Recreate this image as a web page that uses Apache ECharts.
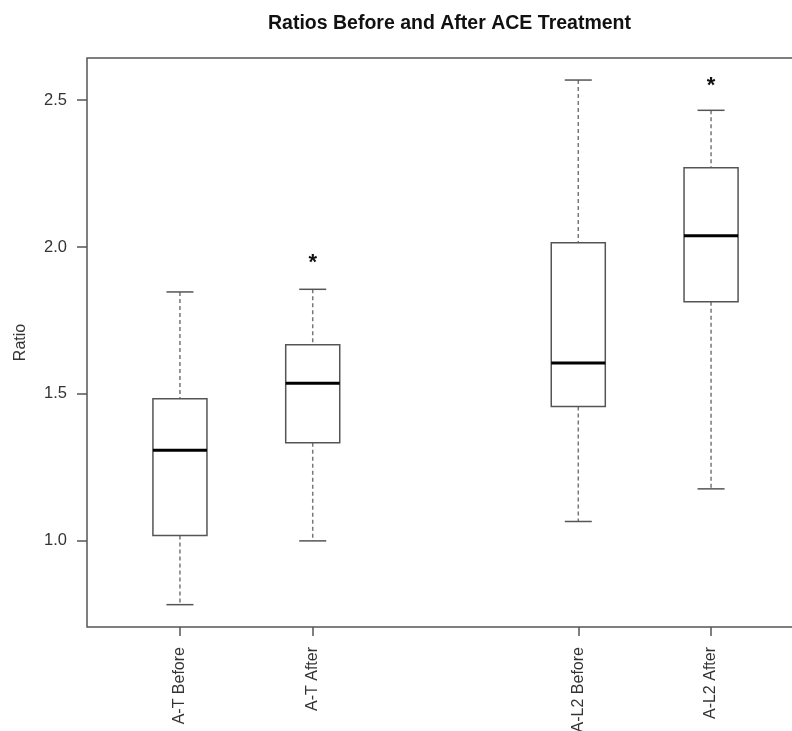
<!DOCTYPE html>
<html><head><meta charset="utf-8">
<script src="https://cdn.jsdelivr.net/npm/echarts@6/dist/echarts.min.js"></script>
<style>html,body{margin:0;padding:0;background:#fff}#c{width:792px;height:731px}</style>
</head><body><div id="c"></div>
<script>
const categories = ['A-T Before', 'A-T After', 'A-L2 Before', 'A-L2 After'];
const positions = [1, 2, 4, 5];
const minVals = [0.783, 1.0, 1.066, 1.177];
const q1Vals = [1.018, 1.334, 1.457, 1.814];
const medianVals = [1.308, 1.536, 1.605, 2.038];
const q3Vals = [1.484, 1.667, 2.014, 2.270];
const maxVals = [1.847, 1.856, 2.568, 2.465];
const starPositions = [2, 5];
const starVals = [1.945, 2.548];
const yTicks = [1.0, 1.5, 2.0, 2.5];

const FONT = '"Liberation Sans", Arial, Helvetica, sans-serif';
const boxData = positions.map((p, i) => [p, minVals[i], q1Vals[i], medianVals[i], q3Vals[i], maxVals[i]]);
const starData = starPositions.map((p, i) => [p, starVals[i]]);

function renderBox(params, api) {
  const x = api.value(0);
  const lo = api.coord([x, api.value(1)]);
  const q1 = api.coord([x, api.value(2)]);
  const md = api.coord([x, api.value(3)]);
  const q3 = api.coord([x, api.value(4)]);
  const hi = api.coord([x, api.value(5)]);
  const halfBox = api.size([0.2035, 0])[0];
  const halfCap = halfBox / 2;
  const cx = lo[0];
  const dash = { stroke: '#777', lineWidth: 1.5, lineDash: [4, 3] };
  const solid = { stroke: '#555', lineWidth: 1.5 };
  return {
    type: 'group', children: [
      { type: 'line', shape: { x1: cx, y1: hi[1], x2: cx, y2: q3[1] }, style: dash },
      { type: 'line', shape: { x1: cx, y1: q1[1], x2: cx, y2: lo[1] }, style: dash },
      { type: 'line', shape: { x1: cx - halfCap, y1: hi[1], x2: cx + halfCap, y2: hi[1] }, style: solid },
      { type: 'line', shape: { x1: cx - halfCap, y1: lo[1], x2: cx + halfCap, y2: lo[1] }, style: solid },
      { type: 'rect', shape: { x: cx - halfBox, y: q3[1], width: 2 * halfBox, height: q1[1] - q3[1] }, style: { fill: '#fff', stroke: '#555', lineWidth: 1.5 } },
      { type: 'line', shape: { x1: cx - halfBox, y1: md[1], x2: cx + halfBox, y2: md[1] }, style: { stroke: '#000', lineWidth: 3 } }
    ]
  };
}

function renderStar(params, api) {
  const p = api.coord([api.value(0), api.value(1)]);
  return { type: 'text', x: p[0], y: p[1], style: { text: '*', fill: '#111', font: 'bold 22px ' + FONT, align: 'center', verticalAlign: 'middle' } };
}

const chart = echarts.init(document.getElementById('c'), null, { renderer: 'canvas' });
chart.setOption({
  animation: false,
  backgroundColor: '#fff',
  title: {
    text: 'Ratios Before and After ACE Treatment',
    left: 263, top: 9,
    textStyle: { fontFamily: FONT, fontWeight: 'bold', fontSize: 19.5, color: '#111' }
  },
  grid: { left: 87, top: 58, width: 717, height: 569, show: true, borderColor: '#555', borderWidth: 1.5, backgroundColor: 'transparent', containLabel: false, outerBoundsMode: 'none' },
  xAxis: {
    type: 'value', min: 0.3, max: 5.7, position: 'bottom',
    axisLine: { show: false }, splitLine: { show: false },
    axisTick: { show: true, customValues: positions, length: 9, lineStyle: { color: '#555', width: 1.5 } },
    axisLabel: {
      customValues: positions, rotate: 90, margin: 20, fontSize: 16, color: '#333', fontFamily: FONT,
      formatter: v => categories[positions.indexOf(v)]
    }
  },
  yAxis: {
    type: 'value', min: 0.707, max: 2.643,
    name: 'Ratio', nameLocation: 'middle', nameGap: 58, nameRotate: 90,
    nameTextStyle: { fontSize: 16, color: '#333', fontFamily: FONT },
    axisLine: { show: false }, splitLine: { show: false },
    axisTick: { show: true, customValues: yTicks, length: 10, lineStyle: { color: '#555', width: 1.5 } },
    axisLabel: { customValues: yTicks, margin: 20, fontSize: 16.5, color: '#333', fontFamily: FONT, formatter: v => v.toFixed(1) }
  },
  series: [
    { type: 'custom', name: 'boxes', data: boxData, dimensions: ['x', 'min', 'q1', 'median', 'q3', 'max'], encode: { x: 0, y: [1, 2, 3, 4, 5] }, renderItem: renderBox, clip: false },
    { type: 'custom', name: 'stars', data: starData, encode: { x: 0, y: 1 }, renderItem: renderStar, clip: false }
  ]
});
</script>
</body></html>
